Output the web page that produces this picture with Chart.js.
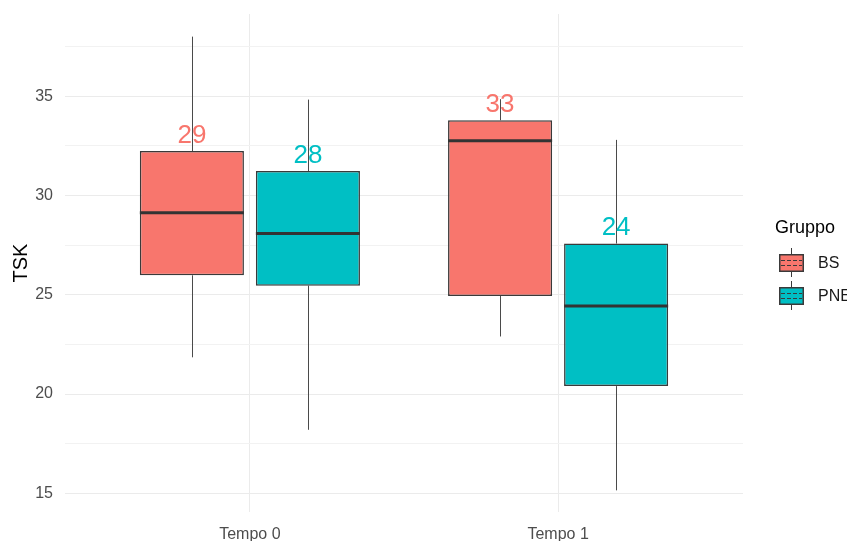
<!DOCTYPE html>
<html>
<head>
<meta charset="utf-8">
<script src="https://cdn.jsdelivr.net/npm/chart.js@4.4.0/dist/chart.umd.min.js"></script>
<style>
  html, body { margin: 0; padding: 0; background: #fff; overflow: hidden; }
</style>
</head>
<body>
<canvas id="boxChart" width="847" height="541"></canvas>
<script>
// categories / groups
const tempi = ['Tempo 0', 'Tempo 1'];
const gruppi = ['BS', 'PNE'];
const colori = ['#F8766D', '#00BFC4'];

// BS: whisker low, Q1, median, Q3, whisker high, text label
const bsMin = [21.85, 22.9];
const bsQ1 = [25.98, 24.94];
const bsMed = [29.13, 32.76];
const bsQ3 = [32.24, 33.79];
const bsMax = [38.0, 34.85];
const bsLabel = [29, 33];

// PNE
const pneMin = [18.2, 15.15];
const pneQ1 = [25.46, 20.4];
const pneMed = [28.08, 24.44];
const pneQ3 = [31.23, 27.58];
const pneMax = [34.83, 32.8];
const pneLabel = [28, 24];

const yTicks = [15, 17.5, 20, 22.5, 25, 27.5, 30, 32.5, 35, 37.5];

const FONT = '"Liberation Sans", Arial, sans-serif';

function makeDataset(name, color, lo, q1, med, q3, hi, lab) {
    return {
        label: name,
        data: tempi.map((t, i) => ({ x: i + 1, y: [q1[i], q3[i]] })),
        backgroundColor: color,
        borderColor: '#3A3A3A',
        borderWidth: 1.5,
        borderSkipped: false,
        barPercentage: 0.897,
        categoryPercentage: 0.753,
        lo: lo, med: med, hi: hi, q1: q1, q3: q3, lab: lab, color: color
    };
}

// whiskers behind boxes, medians + labels on top
const boxPlugin = {
    id: 'boxExtras',
    beforeDatasetsDraw(chart) {
        const ctx = chart.ctx;
        const y = chart.scales.y;
        ctx.save();
        ctx.strokeStyle = '#4A4A4A';
        ctx.lineWidth = 1;
        chart.data.datasets.forEach((ds, di) => {
            chart.getDatasetMeta(di).data.forEach((bar, j) => {
                const x = Math.round(bar.x) + 0.5;
                ctx.beginPath();
                ctx.moveTo(x, y.getPixelForValue(ds.hi[j]));
                ctx.lineTo(x, y.getPixelForValue(ds.q3[j]));
                ctx.moveTo(x, y.getPixelForValue(ds.q1[j]));
                ctx.lineTo(x, y.getPixelForValue(ds.lo[j]));
                ctx.stroke();
            });
        });
        ctx.restore();
    },
    afterDatasetsDraw(chart) {
        const ctx = chart.ctx;
        const y = chart.scales.y;
        ctx.save();
        chart.data.datasets.forEach((ds, di) => {
            chart.getDatasetMeta(di).data.forEach((bar, j) => {
                const half = bar.width / 2;
                const my = y.getPixelForValue(ds.med[j]);
                ctx.strokeStyle = '#333333';
                ctx.lineWidth = 3;
                ctx.beginPath();
                ctx.moveTo(bar.x - half, my);
                ctx.lineTo(bar.x + half, my);
                ctx.stroke();

                ctx.fillStyle = ds.color;
                ctx.font = '26px ' + FONT;
                ctx.textAlign = 'center';
                ctx.textBaseline = 'alphabetic';
                ctx.fillText(String(ds.lab[j]), bar.x, y.getPixelForValue(ds.q3[j]) - 8.5);
            });
        });
        ctx.restore();
    },
    afterDraw(chart) {
        // ggplot style legend on the right
        const ctx = chart.ctx;
        ctx.save();
        ctx.fillStyle = '#000000';
        ctx.font = '18px ' + FONT;
        ctx.textAlign = 'left';
        ctx.textBaseline = 'alphabetic';
        ctx.fillText('Gruppo', 775, 233);

        const keyX = 779, keyW = 25, keyH = 18;
        chart.data.datasets.forEach((ds, i) => {
            const top = 254 + i * 33;
            const cx = keyX + keyW / 2;
            ctx.strokeStyle = '#3A3A3A';
            ctx.lineWidth = 1;
            ctx.beginPath();
            ctx.moveTo(cx, top - 6);
            ctx.lineTo(cx, top + keyH + 5);
            ctx.stroke();
            ctx.fillStyle = ds.color;
            ctx.fillRect(keyX, top, keyW, keyH);
            ctx.lineWidth = 1.5;
            ctx.strokeRect(keyX + 0.75, top + 0.75, keyW - 1.5, keyH - 1.5);
            ctx.lineWidth = 1;
            ctx.setLineDash([4, 2]);
            ctx.beginPath();
            ctx.moveTo(keyX + 2, top + 6.5);
            ctx.lineTo(keyX + keyW - 2, top + 6.5);
            ctx.moveTo(keyX + 2, top + 11.5);
            ctx.lineTo(keyX + keyW - 2, top + 11.5);
            ctx.stroke();
            ctx.setLineDash([]);

            ctx.fillStyle = '#1A1A1A';
            ctx.font = '16px ' + FONT;
            ctx.textBaseline = 'middle';
            ctx.fillText(ds.label, 818, top + keyH / 2 + 1);
        });
        ctx.restore();
    }
};

new Chart(document.getElementById('boxChart'), {
    type: 'bar',
    data: {
        datasets: [
            makeDataset(gruppi[0], colori[0], bsMin, bsQ1, bsMed, bsQ3, bsMax, bsLabel),
            makeDataset(gruppi[1], colori[1], pneMin, pneQ1, pneMed, pneQ3, pneMax, pneLabel)
        ]
    },
    options: {
        responsive: false,
        animation: false,
        layout: { padding: { top: 14, right: 104, left: 0, bottom: 0 } },
        plugins: { legend: { display: false }, tooltip: { enabled: false } },
        scales: {
            x: {
                type: 'linear',
                min: 0.4,
                max: 2.6,
                bounds: 'data',
                offset: false,
                afterBuildTicks: s => { s.ticks = [{ value: 1 }, { value: 2 }]; },
                afterFit: s => { s.height = 29; s.paddingLeft = 0; s.paddingRight = 0; },
                ticks: {
                    callback: v => tempi[v - 1],
                    color: '#4D4D4D',
                    font: { family: FONT, size: 16 },
                    padding: 13,
                    maxRotation: 0
                },
                grid: { color: '#EBEBEB', lineWidth: 1, drawTicks: false, offset: false },
                border: { display: false }
            },
            y: {
                min: 14.06,
                max: 39.14,
                bounds: 'data',
                afterBuildTicks: s => { s.ticks = yTicks.map(v => ({ value: v })); },
                afterFit: s => { s.width = 65; s.paddingTop = 0; s.paddingBottom = 0; },
                ticks: {
                    autoSkip: false,
                    callback: v => (v % 5 === 0 ? v : ''),
                    color: '#4D4D4D',
                    font: { family: FONT, size: 16 },
                    padding: 12
                },
                grid: {
                    color: c => (c.tick && c.tick.value % 5 === 0 ? '#EBEBEB' : '#F2F2F2'),
                    lineWidth: 1,
                    drawTicks: false
                },
                border: { display: false },
                title: {
                    display: true,
                    text: 'TSK',
                    color: '#000000',
                    font: { family: FONT, size: 20 },
                    padding: { top: 9, bottom: 0 }
                }
            }
        }
    },
    plugins: [boxPlugin]
});
</script>
</body>
</html>
